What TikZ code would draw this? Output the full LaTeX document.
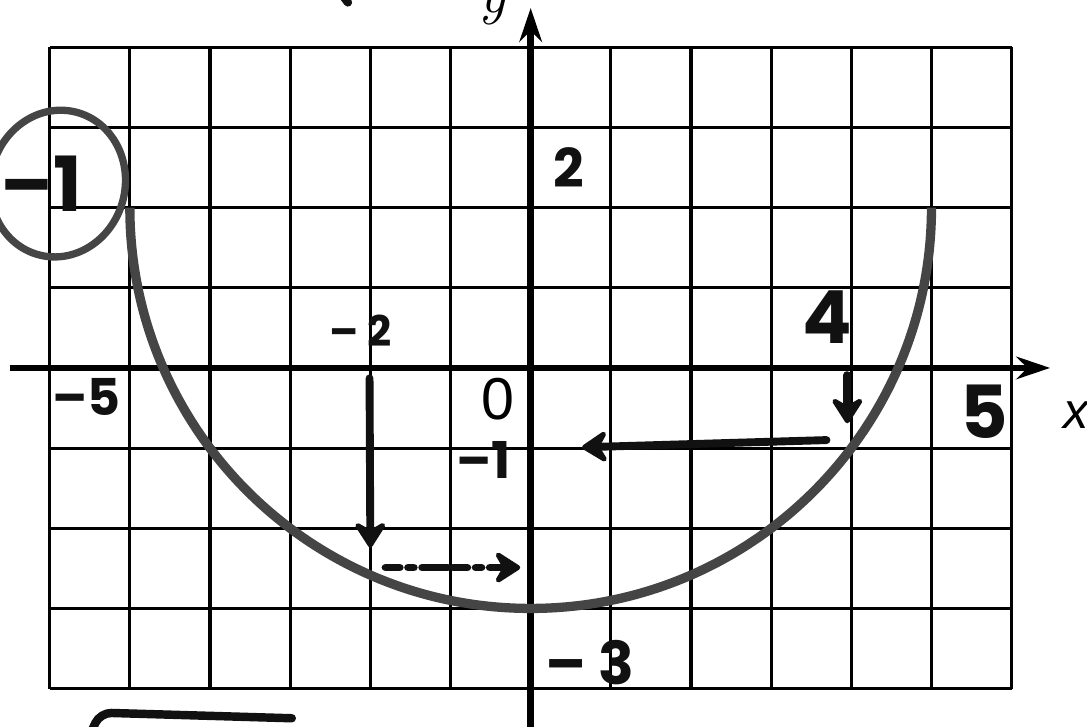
\documentclass[tikz,border=0pt]{standalone}
\usepackage{fontspec}
\usetikzlibrary{arrows.meta,positioning}
\newfontfamily\markerfont{Poppins}
\newfontfamily\printfont{Liberation Sans}
\definecolor{ink}{HTML}{111111}
\definecolor{pencil}{HTML}{454545}
\tikzset{
  gridline/.style={line width=1.1pt,black},
  axisline/.style={line width=2.3pt,black,-{Stealth[length=12pt,width=8pt,inset=4pt]}},
  curveline/.style={line width=3.3pt,pencil},
  penarrow/.style={line width=2.8pt,ink,line cap=round,-{Stealth[length=11pt,width=14pt,inset=4pt,round]}},
  pendots/.style={penarrow,dash pattern=on 5pt off 3pt on 2pt off 3pt on 9pt off 2pt},
  penlabel/.style={font=\markerfont\bfseries\fontsize{#1}{#1}\selectfont,text=ink,inner sep=0pt},
  printlabel/.style={font=\printfont\fontsize{#1}{#1}\selectfont,inner sep=0pt}
}

\begin{document}
\begin{tikzpicture}[x=1cm,y=1cm]
    \clip (-6.62,-4.47) rectangle (6.94,4.59);
    \draw[gridline] (-6,-4) grid (6,4);
    \draw[axisline] (-6.5,0) -- (6.48,0);
    \draw[axisline] (0,-4.7) -- (0,4.49);
    \draw[curveline] (-5,2) arc[start angle=180,end angle=360,radius=5];
    \draw[line width=2.6pt,pencil] (-5.9,2.3) ellipse[x radius=0.84,y radius=0.92,rotate=-15];
    \node[penlabel=27pt] (circled) at (-6.1,2.3) {–1};
    \node[penlabel=19pt] (ytwo) at (0.48,2.5) {2};
    \node[penlabel=15pt] (xnegtwo) at (-2.12,0.47) {– 2};
    \node[penlabel=26pt] (xfour) at (3.7,0.64) {4};
    \node[penlabel=18pt] (xnegfive) at (-5.54,-0.36) {–5};
    \node[penlabel=26pt] (xfive) at (5.66,-0.55) {5};
    \node[penlabel=18pt] (ynegone) at (-0.59,-1.15) {–1};
    \node[penlabel=21pt] (ynegthree) at (0.74,-3.67) {– 3};
    \node[printlabel=21pt] (origin) at (-0.41,-0.39) {0};
    \node[printlabel=18pt] (xname) at (6.8,-0.59) {\itshape x};
    \node[font=\itshape\fontsize{22}{22}\selectfont,inner sep=0pt,anchor=base] (yname) at (-0.48,4.44) {y};
    \coordinate (dropstart) at (-2.01,-0.13);
    \coordinate (dropend) at (-2.0,-2.24);
    \coordinate (slidestart) at (-1.81,-2.49);
    \coordinate (slideend) at (-0.13,-2.49);
    \coordinate (backstart) at (3.69,-0.9);
    \coordinate (backend) at (0.64,-0.99);
    \coordinate (fourtop) at (3.95,-0.09);
    \coordinate (fourbottom) at (3.95,-0.69);
    \draw[penarrow] (dropstart) -- (dropend);
    \draw[pendots] (slidestart) -- (slideend);
    \draw[penarrow] (backstart) -- (backend);
    \draw[penarrow] (fourtop) -- (fourbottom);
    \draw[line width=3pt,ink,line cap=round,rounded corners=4pt] (-5.51,-4.6) -- (-5.37,-4.3) -- (-2.98,-4.37);
    \draw[line width=3pt,ink,line cap=round] (-2.34,4.64) -- (-2.28,4.56);
  \end{tikzpicture}
\end{document}
